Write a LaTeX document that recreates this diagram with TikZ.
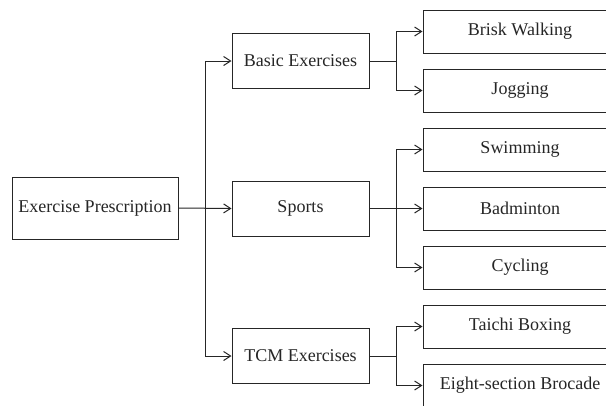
\documentclass[tikz,border=0pt]{standalone}
\usepackage{fontspec}
\setmainfont{Liberation Serif}
\usetikzlibrary{arrows.meta}
\begin{document}
\begin{tikzpicture}[x=1pt,y=-1pt,
  line width=1pt,
  every node/.style={font=\fontsize{18}{21}\selectfont, text=black!85},
  box/.style={draw=black!85, rectangle, inner sep=0pt, line width=1pt},
  rootbox/.style={box, minimum width=166pt, minimum height=62pt},
  midbox/.style={box, minimum width=137pt, minimum height=55pt},
  leafbox/.style={box, minimum width=194pt, minimum height=43pt},
  conn/.style={draw=black!85, line width=1pt},
  arr/.style={conn, -{Straight Barb[length=7pt,width=9pt,line width=1pt]}}]
\useasboundingbox (0,0) rectangle (606,405);
\clip (0,0) rectangle (606,405);
\fill[white] (0,0) rectangle (606,405);
% root
\node[rootbox] (root) at (95,208) {Exercise Prescription};
% middle
\node[midbox] (basic) at (300.5,61) {Basic Exercises};
\node[midbox] (sports) at (300.5,208.5) {Sports};
\node[midbox] (tcm) at (300.5,356) {TCM Exercises};
% leaves
\node[leafbox] (brisk) at (520,31.5) {Brisk Walking};
\node[leafbox] (jog) at (520,90.5) {Jogging};
\node[leafbox] (swim) at (520,149.5) {Swimming};
\node[leafbox] (bad) at (520,208.5) {Badminton};
\node[leafbox] (cyc) at (520,267.5) {Cycling};
\node[leafbox] (tai) at (520,326.5) {Taichi Boxing};
\node[leafbox] (eight) at (520,385.5) {Eight-section Brocade};
% trunk
\coordinate (t) at (205,208.5);
\draw[conn] (t |- basic.west) -- (t |- tcm.west);
\draw[arr] (root.east) -- (sports.west);
\draw[arr] (t |- basic.west) -- (basic.west);
\draw[arr] (t |- tcm.west) -- (tcm.west);
% branches
\coordinate (b1) at (396,61);
\coordinate (b2) at (396,208.5);
\coordinate (b3) at (396,356);
\draw[conn] (basic.east) -- (b1);
\draw[arr] (b1) |- (brisk.west);
\draw[arr] (b1) |- (jog.west);
\draw[arr] (sports.east) -- (bad.west);
\draw[arr] (b2) |- (swim.west);
\draw[arr] (b2) |- (cyc.west);
\draw[conn] (tcm.east) -- (b3);
\draw[arr] (b3) |- (tai.west);
\draw[arr] (b3) |- (eight.west);
\end{tikzpicture}
\end{document}
